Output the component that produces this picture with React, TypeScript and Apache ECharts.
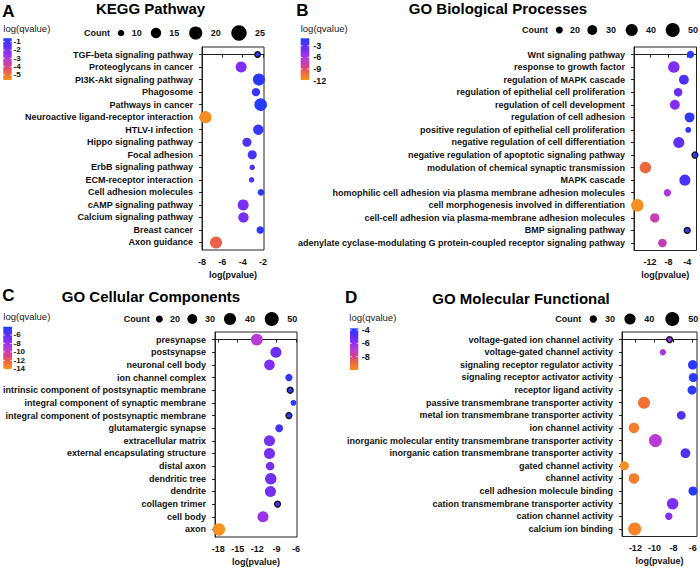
import React, { useEffect, useRef } from "react";
import * as echarts from "echarts";

// ---------------- DATA ----------------
const keggTerms = [
  "TGF-beta signaling pathway", "Proteoglycans in cancer", "PI3K-Akt signaling pathway", "Phagosome",
  "Pathways in cancer", "Neuroactive ligand-receptor interaction", "HTLV-I infection", "Hippo signaling pathway",
  "Focal adhesion", "ErbB signaling pathway", "ECM-receptor interaction", "Cell adhesion molecules",
  "cAMP signaling pathway", "Calcium signaling pathway", "Breast cancer", "Axon guidance",
];
const keggLogP = [-2.53, -4.15, -2.4, -2.69, -2.23, -7.66, -2.46, -3.58, -3.06, -3.06, -3.12, -2.2, -3.95, -3.92, -2.27, -6.62];
const keggCount = [9, 16, 18, 12, 19, 18, 15, 13, 13, 9, 9, 10, 16, 15, 11, 18];
const keggLogQ = [-0.9, -2.1, -0.8, -1.0, -0.7, -5.5, -1.0, -1.35, -1.2, -1.2, -1.25, -0.8, -2.0, -2.0, -0.8, -4.6];

const bpTerms = [
  "Wnt signaling pathway", "response to growth factor", "regulation of MAPK cascade",
  "regulation of epithelial cell proliferation", "regulation of cell development", "regulation of cell adhesion",
  "positive regulation of epithelial cell proliferation", "negative regulation of cell differentiation",
  "negative regulation of apoptotic signaling pathway", "modulation of chemical synaptic transmission",
  "MAPK cascade", "homophilic cell adhesion via plasma membrane adhesion molecules",
  "cell morphogenesis involved in differentiation", "cell-cell adhesion via plasma-membrane adhesion molecules",
  "BMP signaling pathway", "adenylate cyclase-modulating G protein-coupled receptor signaling pathway",
];
const bpLogP = [-3.29, -6.88, -4.71, -5.95, -6.66, -3.5, -3.78, -5.8, -2.34, -13.0, -4.5, -8.26, -14.73, -10.98, -4.0, -9.34];
const bpCount = [21, 37, 30, 25, 30, 30, 17, 35, 17, 37, 35, 21, 42, 28, 17, 25];
const bpLogQ = [-1.5, -4.3, -2.7, -3.5, -4.3, -1.6, -1.8, -3.2, -1.3, -9.9, -2.5, -5.9, -11.6, -7.5, -2.2, -7.3];

const ccTerms = [
  "presynapse", "postsynapse", "neuronal cell body", "ion channel complex",
  "intrinsic component of postsynaptic membrane", "integral component of synaptic membrane",
  "integral component of postsynaptic membrane", "glutamatergic synapse", "extracellular matrix",
  "external encapsulating structure", "distal axon", "dendritic tree", "dendrite", "collagen trimer",
  "cell body", "axon",
];
const ccLogP = [-12.05, -9.1, -10.1, -7.1, -6.9, -6.4, -7.1, -8.6, -10.1, -10.1, -10.0, -9.9, -9.95, -8.85, -11.1, -17.9];
const ccCount = [39, 35, 33, 21, 17, 17, 17, 23, 35, 35, 25, 37, 35, 17, 35, 42];
const ccLogQ = [-9.1, -6.3, -7.1, -4.6, -4.6, -4.3, -4.6, -5.2, -6.8, -6.8, -6.7, -6.6, -6.7, -5.5, -8.0, -14.0];

const mfTerms = [
  "voltage-gated ion channel activity", "voltage-gated channel activity", "signaling receptor regulator activity",
  "signaling receptor activator activity", "receptor ligand activity", "passive transmembrane transporter activity",
  "metal ion transmembrane transporter activity", "ion channel activity",
  "inorganic molecular entity transmembrane transporter activity",
  "inorganic cation transmembrane transporter activity", "gated channel activity", "channel activity",
  "cell adhesion molecule binding", "cation transmembrane transporter activity", "cation channel activity",
  "calcium ion binding",
];
const mfLogP = [-8.42, -9.12, -6.0, -5.94, -6.07, -11.1, -7.2, -12.15, -9.9, -6.76, -13.15, -12.15, -5.97, -8.1, -8.5, -12.07];
const mfCount = [27, 28, 35, 34, 34, 43, 33, 38, 46, 36, 34, 38, 34, 41, 30, 46];
const mfLogQ = [-6.25, -6.6, -4.0, -4.0, -4.0, -9.1, -4.8, -9.5, -6.9, -4.6, -9.9, -9.5, -3.9, -5.6, -5.8, -9.6];

const keggXTicks = [-8, -6, -4, -2];
const bpXTicks = [-12, -8, -4];
const ccXTicks = [-18, -15, -12, -9, -6];
const mfXTicks = [-12, -10, -8, -6];

const keggQTicks = [-1, -2, -3, -4, -5];
const bpQTicks = [-3, -6, -9, -12];
const ccQTicks = [-6, -8, -10, -12, -14];
const mfQTicks = [-4, -6, -8];

const keggCountBreaks = [10, 15, 20, 25];
const bpCountBreaks = [20, 30, 40, 50];
const ccCountBreaks = [20, 30, 40, 50];
const mfCountBreaks = [30, 40, 50];

const outlinedTerms = new Set([
  "TGF-beta signaling pathway",
  "negative regulation of apoptotic signaling pathway", "BMP signaling pathway",
  "intrinsic component of postsynaptic membrane", "integral component of postsynaptic membrane", "collagen trimer",
  "voltage-gated ion channel activity",
]);

// ---------------- STYLE / LAYOUT ----------------
const FONT = '"Liberation Sans", Arial, Helvetica, sans-serif';
const COLORS_LOW_TO_HIGH = ["#f7931e", "#ef6a3a", "#d8408f", "#b83ad8", "#8a2ef2", "#5530f2", "#1f3cff"];

const panels = [
  {
    letter: "A", title: "KEGG Pathway", terms: keggTerms, logP: keggLogP, count: keggCount, logQ: keggLogQ,
    xTicks: keggXTicks, qTicks: keggQTicks, breaks: keggCountBreaks,
    grid: { left: 202, top: 47, width: 62, height: 203 }, xMin: -8, xMax: -1.9,
    size: { a: 3.23, b: -21.4 }, qRange: [-5.6, -0.6],
    letterPos: [8.5, 11], titlePos: [150.5, 8.5], qLabelPos: [3.3, 28],
    bar: { x: 3.3, y: 38.3, w: 8.4, h: 41.7 }, qTickX: 13.5, qFont: 8,
    legend: { y: 33, countX: 97, dots: [121, 156, 195.7, 239], labels: [136.7, 174.3, 215.7, 260] },
  },
  {
    letter: "B", title: "GO Biological Processes", terms: bpTerms, logP: bpLogP, count: bpCount, logQ: bpLogQ,
    xTicks: bpXTicks, qTicks: bpQTicks, breaks: bpCountBreaks,
    grid: { left: 634, top: 47, width: 62.5, height: 203.5 }, xMin: -15.45, xMax: -2.0,
    size: { a: 1.225, b: -12.25 }, qRange: [-11.8, -1.1],
    letterPos: [302.5, 10.5], titlePos: [498, 8.5], qLabelPos: [300.7, 28],
    bar: { x: 300.7, y: 38.3, w: 8.6, h: 41.7 }, qTickX: 313.3, qFont: 9,
    legend: { y: 30, countX: 535, dots: [559.3, 592.3, 631.7, 672.7], labels: [575, 611, 651, 693] },
  },
  {
    letter: "C", title: "GO Cellular Components", terms: ccTerms, logP: ccLogP, count: ccCount, logQ: ccLogQ,
    xTicks: ccXTicks, qTicks: ccQTicks, breaks: ccCountBreaks,
    grid: { left: 214, top: 332, width: 83, height: 205 }, xMin: -18.5, xMax: -5.85,
    size: { a: 1.225, b: -12.25 }, qRange: [-14.1, -4.05],
    letterPos: [8.5, 295], titlePos: [151, 296], qLabelPos: [3.3, 316],
    bar: { x: 3.3, y: 326.7, w: 8.7, h: 42.6 }, qTickX: 13.5, qFont: 8,
    legend: { y: 319, countX: 136.7, dots: [159.3, 192.3, 230, 271.7], labels: [175, 210, 250, 292.3] },
  },
  {
    letter: "D", title: "GO Molecular Functional", terms: mfTerms, logP: mfLogP, count: mfCount, logQ: mfLogQ,
    xTicks: mfXTicks, qTicks: mfQTicks, breaks: mfCountBreaks,
    grid: { left: 622, top: 332, width: 75, height: 204.5 }, xMin: -13.4, xMax: -5.55,
    size: { a: 1.765, b: -39.3 }, qRange: [-10, -3.75],
    letterPos: [351.2, 297.5], titlePos: [521, 298], qLabelPos: [349.3, 317.7],
    bar: { x: 350, y: 328.3, w: 8.3, h: 41.7 }, qTickX: 361.7, qFont: 9,
    legend: { y: 319, countX: 568.3, dots: [593.3, 630, 672.3], labels: [610, 649.3, 693.3] },
  },
];

const radiusFor = (size: { a: number; b: number }, c: number) => Math.sqrt(Math.max(size.a * c + size.b, 1));

function buildOption() {
  const grids: any[] = [];
  const xAxes: any[] = [];
  const yAxes: any[] = [];
  const series: any[] = [];
  const visualMaps: any[] = [];
  const graphics: any[] = [];
  const axisColor = "#222";
  const textColor = "#111";

  panels.forEach((p, i) => {
    const idx = p.terms.map((_, k) => k);
    grids.push({ ...p.grid, show: true, borderColor: axisColor, borderWidth: 1, backgroundColor: "#fff", containLabel: false });
    xAxes.push({
      type: "value", gridIndex: i, min: p.xMin, max: p.xMax,
      axisLine: { show: true, lineStyle: { color: axisColor, width: 1 } },
      axisTick: { show: true, length: 3, lineStyle: { color: axisColor }, customValues: p.xTicks },
      axisLabel: { customValues: p.xTicks, fontSize: 9, fontWeight: "bold", color: textColor, margin: 7, fontFamily: FONT },
      splitLine: { show: false },
      name: "log(pvalue)", nameLocation: "middle", nameGap: 20,
      nameTextStyle: { fontSize: 9, fontWeight: "bold", color: textColor, fontFamily: FONT },
    });
    yAxes.push({
      type: "value", gridIndex: i, inverse: true, min: -0.6, max: p.terms.length - 1 + 0.6,
      axisLine: { show: true, lineStyle: { color: axisColor, width: 1 } },
      axisTick: { show: true, length: 3, lineStyle: { color: axisColor }, customValues: idx },
      axisLabel: {
        customValues: idx, formatter: (v: number) => p.terms[Math.round(v)] ?? "",
        fontSize: 9, fontWeight: "bold", color: textColor, margin: 9, fontFamily: FONT,
      },
      splitLine: { show: false },
    });
    series.push({
      type: "scatter", xAxisIndex: i, yAxisIndex: i,
      data: p.terms.map((t, k) => ({
        name: t,
        value: [p.logP[k], k, p.count[k], p.logQ[k]],
        itemStyle: outlinedTerms.has(t) ? { borderColor: "#111", borderWidth: 1.4 } : undefined,
      })),
      symbolSize: (val: number[]) => 2 * radiusFor(p.size, val[2]),
      itemStyle: { opacity: 1 },
      emphasis: { disabled: true },
      z: 3,
    });
    visualMaps.push({
      type: "continuous", show: false, seriesIndex: i, dimension: 3,
      min: p.qRange[0], max: p.qRange[1], inRange: { color: COLORS_LOW_TO_HIGH },
    });

    // Panel letter & title
    graphics.push({
      type: "text", x: p.letterPos[0], y: p.letterPos[1],
      style: { text: p.letter, font: `bold 17px ${FONT}`, fill: "#000", textAlign: "center", textVerticalAlign: "middle" },
    });
    graphics.push({
      type: "text", x: p.titlePos[0], y: p.titlePos[1],
      style: { text: p.title, font: `bold 15px ${FONT}`, fill: "#000", textAlign: "center", textVerticalAlign: "middle" },
    });
    // Color legend
    graphics.push({
      type: "text", x: p.qLabelPos[0], y: p.qLabelPos[1],
      style: { text: "log(qvalue)", font: `9.5px ${FONT}`, fill: "#222", textAlign: "left", textVerticalAlign: "middle" },
    });
    const stops = [...COLORS_LOW_TO_HIGH].reverse().map((c, k, arr) => ({ offset: k / (arr.length - 1), color: c }));
    graphics.push({
      type: "rect", shape: { x: p.bar.x, y: p.bar.y, width: p.bar.w, height: p.bar.h },
      style: { fill: { type: "linear", x: 0, y: 0, x2: 0, y2: 1, colorStops: stops } },
    });
    const [qMin, qMax] = p.qRange;
    p.qTicks.forEach((q) => {
      const y = p.bar.y + ((qMax - q) / (qMax - qMin)) * p.bar.h;
      graphics.push({ type: "line", shape: { x1: p.bar.x, y1: y, x2: p.bar.x + 1.8, y2: y }, style: { stroke: "#fff", lineWidth: 0.8 } });
      graphics.push({ type: "line", shape: { x1: p.bar.x + p.bar.w - 1.8, y1: y, x2: p.bar.x + p.bar.w, y2: y }, style: { stroke: "#fff", lineWidth: 0.8 } });
      graphics.push({
        type: "text", x: p.qTickX, y,
        style: {
          text: String(q), font: `bold ${p.qFont}px ${FONT}`, lineHeight: p.qFont,
          fill: textColor, textAlign: "left", textVerticalAlign: "middle",
        },
      });
    });
    // Size legend
    graphics.push({
      type: "text", x: p.legend.countX, y: p.legend.y,
      style: { text: "Count", font: `bold 9px ${FONT}`, fill: textColor, textAlign: "center", textVerticalAlign: "middle" },
    });
    p.breaks.forEach((c, k) => {
      graphics.push({ type: "circle", shape: { cx: p.legend.dots[k], cy: p.legend.y, r: radiusFor(p.size, c) }, style: { fill: "#000" } });
      graphics.push({
        type: "text", x: p.legend.labels[k], y: p.legend.y,
        style: { text: String(c), font: `bold 9px ${FONT}`, fill: textColor, textAlign: "center", textVerticalAlign: "middle" },
      });
    });
  });

  return {
    animation: false,
    backgroundColor: "#fff",
    textStyle: { fontFamily: FONT },
    grid: grids,
    xAxis: xAxes,
    yAxis: yAxes,
    visualMap: visualMaps,
    series,
    graphic: graphics,
  };
}

export default function App() {
  const ref = useRef<HTMLDivElement>(null);
  useEffect(() => {
    if (!ref.current) return;
    const chart = echarts.init(ref.current, undefined, { renderer: "svg" });
    chart.setOption(buildOption() as any);
    return () => chart.dispose();
  }, []);
  return <div ref={ref} style={{ position: "fixed", left: 0, top: 0, width: 700, height: 568, background: "#fff" }} />;
}
